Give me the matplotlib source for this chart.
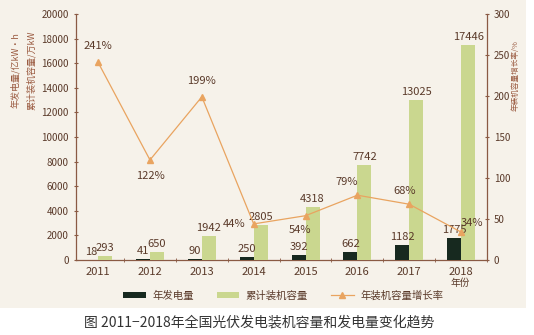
import matplotlib
matplotlib.use('Agg')
import matplotlib.pyplot as plt
import numpy as np
from matplotlib.patches import Rectangle

plt.rcParams['font.family'] = ['Noto Sans CJK SC', 'DejaVu Sans']
plt.rcParams['axes.unicode_minus'] = False

# 数据
years = ['2011', '2012', '2013', '2014', '2015', '2016', '2017', '2018']
generation = [18, 41, 90, 250, 392, 662, 1182, 1775]          # 年发电量 亿kW·h
capacity = [293, 650, 1942, 2805, 4318, 7742, 13025, 17446]   # 累计装机容量 万kW
growth = [241, 122, 199, 44, 54, 79, 68, 34]                  # 年装机容量增长率 %

txt = '#5a3a2a'
axc = '#8a5a44'
bg = '#f6f2ea'
dark = '#17291f'
green = '#cad78f'
orange = '#e9a460'

fig = plt.figure(figsize=(5.34, 3.35), dpi=100, facecolor='white')
fig.patches.append(Rectangle((0, 0.08), 0.985, 0.92, transform=fig.transFigure,
                             facecolor=bg, edgecolor='none', zorder=-10))

ax = fig.add_axes([0.142, 0.224, 0.77, 0.734])
ax.set_facecolor('none')
x = np.arange(len(years))
w = 0.27

ax.bar(x - w / 2, generation, w, color=dark, label='年发电量', zorder=3)
ax.bar(x + w / 2, capacity, w, color=green, label='累计装机容量', zorder=3)

for i in range(len(years)):
    ax.text(x[i] - w / 2, generation[i] + 250, str(generation[i]), ha='center', va='bottom',
            fontsize=8, color=txt)
    ax.text(x[i] + w / 2, capacity[i] + 250, str(capacity[i]), ha='center', va='bottom',
            fontsize=8, color=txt)

ax.set_xlim(-0.43, 7.48)
ax.set_ylim(0, 20000)
ax.set_yticks(range(0, 20001, 2000))
ax.set_xticks(x)
ax.set_xticklabels(years)
ax.set_xticks(x + 0.5, minor=True)
ax.tick_params(axis='x', which='major', length=0, labelsize=8, labelcolor=txt, pad=5)
ax.tick_params(axis='x', which='minor', length=3, color=axc, direction='inout')
ax.tick_params(axis='y', length=3, direction='inout', color=axc, labelsize=7, labelcolor=txt)
for s in ['top', 'right']:
    ax.spines[s].set_visible(False)
for s in ['left', 'bottom']:
    ax.spines[s].set_color(axc)
    ax.spines[s].set_linewidth(0.9)

ax2 = ax.twinx()
ax2.plot(x, growth, color=orange, lw=0.9, marker='^', markersize=5,
         markerfacecolor=orange, markeredgecolor=orange, label='年装机容量增长率', zorder=4)
ax2.set_ylim(0, 300)
ax2.set_yticks(range(0, 301, 50))
ax2.tick_params(axis='y', length=3, direction='inout', color=axc, labelsize=7, labelcolor=txt)
for s in ['top', 'left', 'bottom']:
    ax2.spines[s].set_visible(False)
ax2.spines['right'].set_color(axc)
ax2.spines['right'].set_linewidth(0.9)

offsets = [(0, 8, 'center', 'bottom'), (0, -8, 'center', 'top'), (0, 8, 'center', 'bottom'),
           (-6, 0, 'right', 'center'), (-4, -7, 'center', 'top'), (-8, 6, 'center', 'bottom'),
           (-3, 6, 'center', 'bottom'), (8, 3, 'center', 'bottom')]
for i, (dx, dy, ha, va) in enumerate(offsets):
    ax2.annotate(f'{growth[i]}%', (x[i], growth[i]), xytext=(dx, dy), textcoords='offset points',
                 ha=ha, va=va, fontsize=8, color=txt)

# 轴标题
fig.text(0.028, 0.79, '年发电量/亿kW·h', rotation=90, ha='center', va='center',
         fontsize=6.5, color='#9a5a40')
fig.text(0.058, 0.79, '累计装机容量/万kW', rotation=90, ha='center', va='center',
         fontsize=6.5, color='#9a5a40')
fig.text(0.965, 0.775, '年装机容量增长率/%', rotation=90, ha='center', va='center',
         fontsize=5.5, color='#9a5a40')
fig.text(0.862, 0.155, '年份', ha='center', va='center', fontsize=7, color=txt)

h1, l1 = ax.get_legend_handles_labels()
h2, l2 = ax2.get_legend_handles_labels()
fig.legend(h1 + h2, l1 + l2, loc='center', bbox_to_anchor=(0.53, 0.118), ncol=3,
           frameon=False, fontsize=7.5, labelcolor=txt, handlelength=2.2, handleheight=0.6,
           columnspacing=2.2, handletextpad=0.6)

fig.text(0.485, 0.037, '图 2011−2018年全国光伏发电装机容量和发电量变化趋势',
         ha='center', va='center', fontsize=10, color='#333333')

fig.savefig('out.png', dpi=100, facecolor='white')
